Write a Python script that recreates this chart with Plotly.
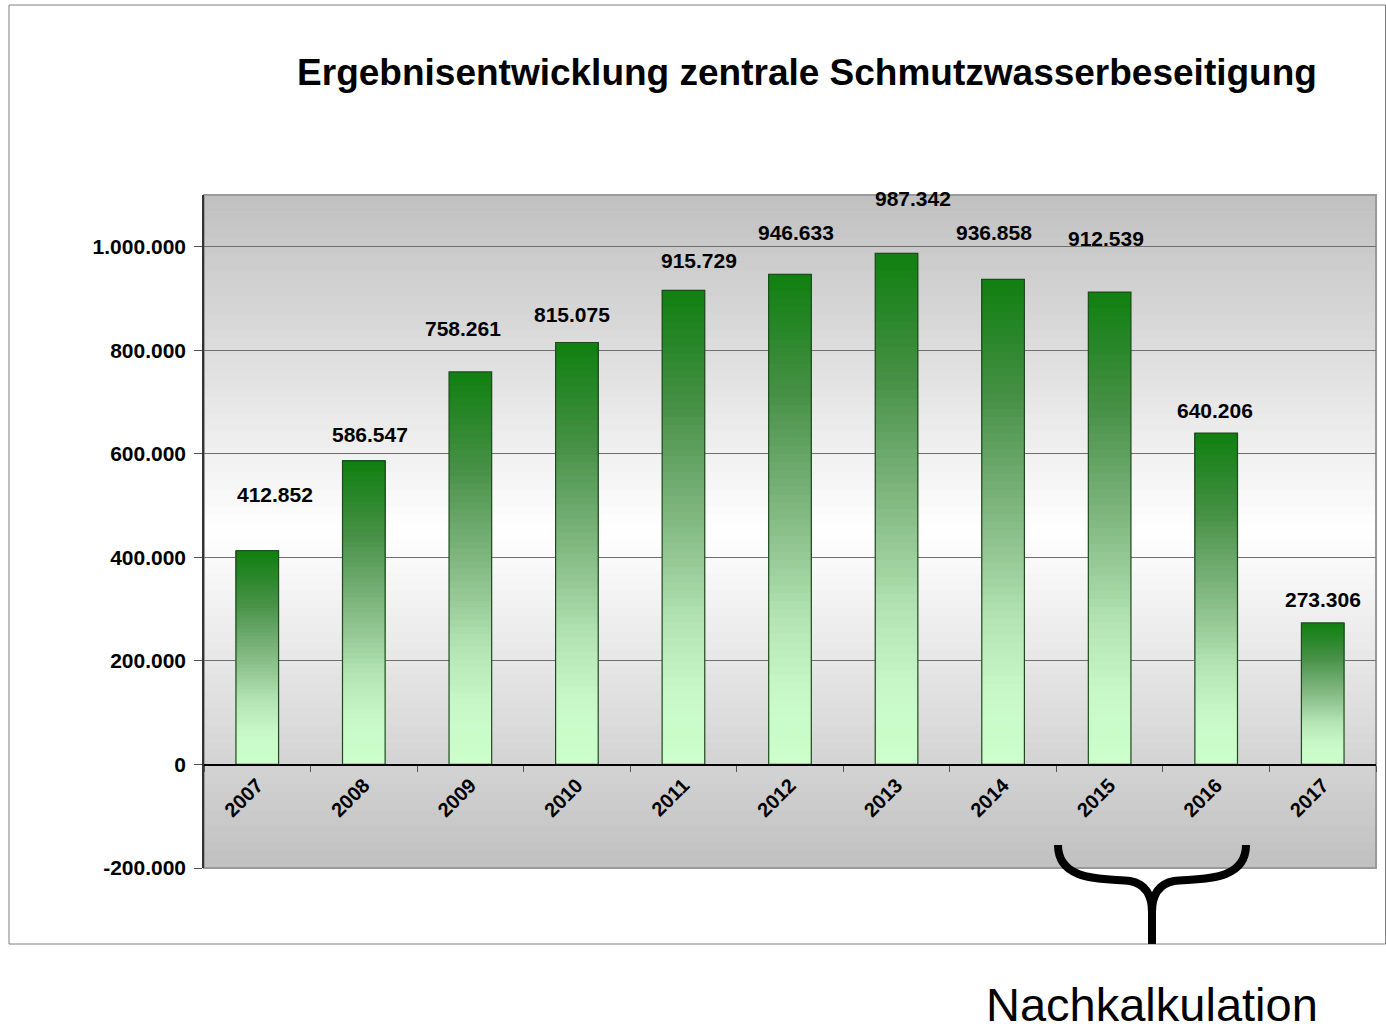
import plotly.graph_objects as go

years = ["2007", "2008", "2009", "2010", "2011", "2012", "2013", "2014", "2015", "2016", "2017"]
values = [412852, 586547, 758261, 815075, 915729, 946633, 987342, 936858, 912539, 640206, 273306]
label_xshift = [18, 6, -7, -5, 16, 6, 16, -9, -4, -1, 0]
label_yshift = [56, 26, 43, 28, 30, 42, 55, 47, 54, 23, 23]
ytick_vals = [-200000, 0, 200000, 400000, 600000, 800000, 1000000]
ytick_text = ["-200.000", "0", "200.000", "400.000", "600.000", "800.000", "1.000.000"]

W, H = 1386, 1027
L, R, T, B = 204, 10, 195, 159
PW, PH = W - L - R, H - T - B

def px(x):
    return (x - L) / PW

def py(y):
    return (H - B - y) / PH

FONT = "Arial, Liberation Sans, sans-serif"

# colour stops along the bar, fraction measured from the top
stops = [(0.0, (16, 128, 16)), (0.12, (42, 135, 42)), (0.25, (72, 145, 72)),
         (0.4, (110, 170, 110)), (0.55, (145, 196, 145)), (0.7, (180, 228, 180)),
         (0.85, (200, 248, 200)), (1.0, (204, 255, 204))]

def grad(t):
    for (t0, c0), (t1, c1) in zip(stops[:-1], stops[1:]):
        if t0 <= t <= t1:
            f = (t - t0) / (t1 - t0)
            return tuple(round(c0[k] + (c1[k] - c0[k]) * f) for k in range(3))
    return stops[-1][1]

fig = go.Figure()

N = 60
for i in range(N):
    t_from_top = 1 - (i + 0.5) / N
    c = grad(t_from_top)
    fig.add_trace(go.Bar(
        x=years,
        base=[v * i / N for v in values],
        y=[v - v * i / N for v in values],
        width=0.4,
        marker=dict(color="rgb(%d,%d,%d)" % c, line=dict(width=0)),
        showlegend=False, hoverinfo="skip",
    ))
fig.add_trace(go.Bar(
    x=years, y=values, base=[0] * len(values), width=0.4,
    marker=dict(color="rgba(0,0,0,0)", line=dict(color="#1e4a1e", width=1.2)),
    showlegend=False, hoverinfo="skip",
))

shapes = []
S = 80
for i in range(S):
    y0 = i / S
    y1 = (i + 1) / S
    m = (y0 + y1) / 2
    d = abs(m - 0.5) / 0.5
    g = round(255 - (255 - 192) * d)
    shapes.append(dict(type="rect", xref="paper", yref="paper", x0=0, x1=1, y0=y0, y1=y1 + 0.001,
                       fillcolor="rgb(%d,%d,%d)" % (g, g, g), line=dict(width=0), layer="below"))
shapes.append(dict(type="rect", xref="paper", yref="paper", x0=0, x1=1, y0=0, y1=1,
                   line=dict(color="#9a9a9a", width=2), fillcolor="rgba(0,0,0,0)", layer="below"))
shapes.append(dict(type="rect", xref="paper", yref="paper", x0=px(9), x1=px(1385.5), y0=py(944), y1=py(5),
                   line=dict(color="#7f7f7f", width=1), fillcolor="rgba(0,0,0,0)", layer="below"))
pts = [
    ("M", [(1058, 845)]),
    ("C", [(1058, 884), (1110, 878), (1130, 881)]),
    ("C", [(1146, 884), (1152, 896), (1152, 912)]),
    ("L", [(1152, 944)]),
    ("M", [(1246, 845)]),
    ("C", [(1246, 884), (1194, 878), (1174, 881)]),
    ("C", [(1158, 884), (1152, 896), (1152, 912)]),
]
path = ""
for cmd, plist in pts:
    path += cmd + " " + " ".join("%.5f,%.5f" % (px(a), py(b)) for a, b in plist) + " "
shapes.append(dict(type="path", xref="paper", yref="paper", path=path.strip(),
                   line=dict(color="black", width=8), layer="above"))

annotations = []
for idx, (v, xs, ys) in enumerate(zip(values, label_xshift, label_yshift)):
    annotations.append(dict(x=idx, y=v, xref="x", yref="y", text=f"{v:,}".replace(",", "."),
                            showarrow=False, yshift=ys, xshift=xs, yanchor="middle",
                            font=dict(family=FONT, size=21, color="black", weight="bold")))
annotations.append(dict(x=px(1152), y=py(1004), xref="paper", yref="paper", text="Nachkalkulation",
                        showarrow=False, xanchor="center", yanchor="middle",
                        font=dict(family=FONT, size=47, color="black")))

fig.update_layout(
    width=W, height=H,
    margin=dict(l=L, r=R, t=T, b=B),
    paper_bgcolor="white", plot_bgcolor="rgba(0,0,0,0)",
    barmode="overlay", bargap=0.6,
    title=dict(text="<b>Ergebnisentwicklung zentrale Schmutzwasserbeseitigung</b>",
               x=px(807), xref="paper", xanchor="center", y=1 - 72 / H, yanchor="middle",
               font=dict(family=FONT, size=37, color="black")),
    shapes=shapes, annotations=annotations,
    xaxis=dict(type="category", range=[-0.5, len(years) - 0.5], autorange=False,
               anchor="free", position=py(765), showline=True, linecolor="black",
               linewidth=1.5, ticks="outside", tickson="boundaries", ticklen=6, tickcolor="#555",
               tickangle=-45, showgrid=False,
               tickfont=dict(family=FONT, size=20, color="black", weight="bold")),
    yaxis=dict(range=[-200000, 1100000], autorange=False, tickvals=ytick_vals, ticktext=ytick_text,
               showgrid=True, gridcolor="#6f6f6f", gridwidth=1, zeroline=False,
               showline=True, linecolor="#333", linewidth=1.5, ticks="outside", ticklen=8,
               tickcolor="#555", ticklabelstandoff=4,
               tickfont=dict(family=FONT, size=21, color="black", weight="bold")),
)

fig.write_html("out.html", config={"displayModeBar": False},
               post_script="document.body.style.margin='0';document.body.style.overflow='hidden';")
